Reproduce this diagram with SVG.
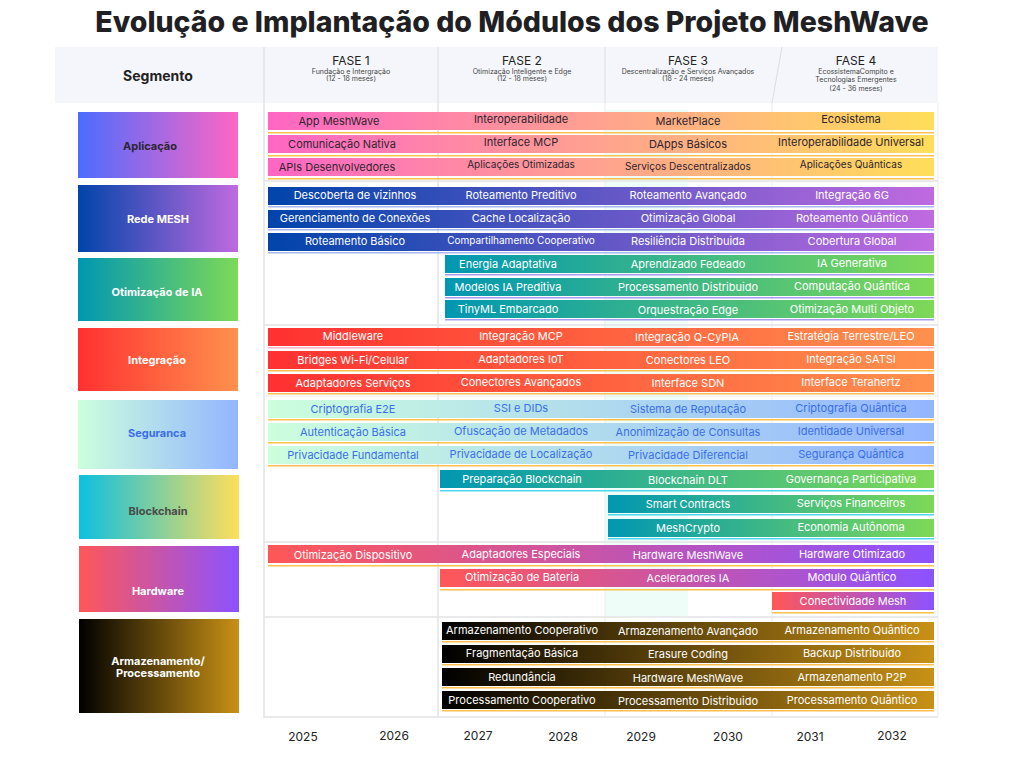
<svg xmlns="http://www.w3.org/2000/svg" width="1024" height="768" viewBox="0 0 1024 768">
<defs>
<linearGradient id="gApp"><stop offset="0" stop-color="#ff66c4"/><stop offset="1" stop-color="#ffde59"/></linearGradient>
<linearGradient id="gAppS"><stop offset="0" stop-color="#4b6cff"/><stop offset="1" stop-color="#ff66c4"/></linearGradient>
<linearGradient id="gMesh"><stop offset="0" stop-color="#0044aa"/><stop offset="1" stop-color="#c06ae0"/></linearGradient>
<linearGradient id="gIA"><stop offset="0" stop-color="#0097b2"/><stop offset="1" stop-color="#7ed957"/></linearGradient>
<linearGradient id="gInt"><stop offset="0" stop-color="#ff3131"/><stop offset="1" stop-color="#ff914d"/></linearGradient>
<linearGradient id="gSeg"><stop offset="0" stop-color="#ccffdd"/><stop offset="1" stop-color="#93b5ff"/></linearGradient>
<linearGradient id="gBcS"><stop offset="0" stop-color="#0cc0df"/><stop offset="1" stop-color="#ffde59"/></linearGradient>
<linearGradient id="gHw"><stop offset="0" stop-color="#ff5757"/><stop offset="1" stop-color="#8c52ff"/></linearGradient>
<linearGradient id="gArm"><stop offset="0" stop-color="#000000"/><stop offset="1" stop-color="#c89116"/></linearGradient>
<style>
text{font-family:"Inter","Liberation Sans",sans-serif;text-anchor:middle}
.title{font-size:28.5px;font-weight:800;fill:#1f1f24}
.seg{font-size:11px;font-weight:700}
.fase{font-size:12px;fill:#222}
.sub{font-size:7px;fill:#444}
.bt{font-size:11px}
.sm{font-size:10px}
.w{fill:#ffffff}
.dk{fill:#2d2430}
.bl{fill:#3a6ee8}
.yr{font-size:12px;fill:#222}
.grid{stroke:#e3e3e6;stroke-width:1.5;fill:none}
</style>
</defs>
<rect width="1024" height="768" fill="#ffffff"/>
<text class="title" x="512" y="32">Evolução e Implantação do Módulos dos Projeto MeshWave</text>

<g id="header">
<rect x="55" y="47" width="883" height="56" fill="#f5f6fb"/>
<text x="158" y="81" style="font-size:14px;font-weight:700;fill:#222">Segmento</text>
<text class="fase" x="351" y="65">FASE 1</text>
<text class="sub" x="351" y="74">Fundação e Intergração</text>
<text class="sub" x="351" y="81">(12 - 18 meses)</text>
<text class="fase" x="522" y="65">FASE 2</text>
<text class="sub" x="522" y="74">Otimização Inteligente e Edge</text>
<text class="sub" x="522" y="81">(12 - 18 meses)</text>
<text class="fase" x="688" y="65">FASE 3</text>
<text class="sub" x="688" y="74">Descentralização e Serviços Avançados</text>
<text class="sub" x="688" y="81">(18 - 24 meses)</text>
<text class="fase" x="856" y="65">FASE 4</text>
<text class="sub" x="856" y="74">EcossistemaCompito e</text>
<text class="sub" x="856" y="82">Tecnologias Emergentes</text>
<text class="sub" x="856" y="91">(24 - 36 meses)</text>
<line x1="438" y1="47" x2="438" y2="103" stroke="#dcdce2" stroke-width="1"/>
<line x1="605" y1="47" x2="605" y2="103" stroke="#dcdce2" stroke-width="1"/>
<line x1="782" y1="47" x2="772" y2="103" stroke="#dcdce2" stroke-width="1"/>
</g>

<g id="grid">
<rect x="605" y="110" width="83" height="507" fill="#eefdf8"/>
<line class="grid" x1="264" y1="47" x2="264" y2="718"/>
<line class="grid" x1="264" y1="717" x2="938" y2="717"/>
<line x1="438" y1="103" x2="438" y2="717" stroke="#e3e3e6" stroke-width="1.5"/>
<line x1="605" y1="103" x2="605" y2="717" stroke="#ececef" stroke-width="1"/>
<line x1="772" y1="103" x2="772" y2="717" stroke="#ececef" stroke-width="1"/>
<line x1="938" y1="103" x2="938" y2="717" stroke="#ececef" stroke-width="1"/>
<line x1="264" y1="181" x2="938" y2="181" stroke="#e3e3e6" stroke-width="1.5"/>
<line x1="264" y1="325" x2="938" y2="325" stroke="#e3e3e6" stroke-width="1.5"/>
<line x1="264" y1="396" x2="938" y2="396" stroke="#ececef" stroke-width="1"/>
<line x1="264" y1="542" x2="938" y2="542" stroke="#e3e3e6" stroke-width="1.5"/>
<line x1="264" y1="617" x2="938" y2="617" stroke="#e3e3e6" stroke-width="1.5"/>
</g>

<g id="seg-aplicacao">
<rect x="78" y="112" width="160" height="66" fill="url(#gAppS)"/>
<text class="seg dk" x="150" y="150">Aplicação</text>
<rect x="268" y="112" width="666" height="18" fill="url(#gApp)"/>
<rect x="268" y="132" width="666" height="1.5" fill="#ffc04d"/>
<rect x="268" y="135" width="666" height="18" fill="url(#gApp)"/>
<rect x="268" y="155" width="666" height="1.5" fill="#ffc04d"/>
<rect x="268" y="158" width="666" height="18" fill="url(#gApp)"/>
<rect x="268" y="178" width="666" height="1.5" fill="#ffc04d"/>
<text class="bt dk" x="339" y="125">App MeshWave</text>
<text class="bt dk" x="521" y="123">Interoperabilidade</text>
<text class="bt dk" x="688" y="125">MarketPlace</text>
<text class="bt dk" x="851" y="123">Ecosistema</text>
<text class="bt dk" x="342" y="148">Comunicação Nativa</text>
<text class="bt dk" x="521" y="146">Interface MCP</text>
<text class="bt dk" x="688" y="148">DApps Básicos</text>
<text class="bt dk" x="851" y="146">Interoperabilidade Universal</text>
<text class="bt dk" x="337" y="171">APIs Desenvolvedores</text>
<text class="sm dk" x="521" y="168">Aplicações Otimizadas</text>
<text class="sm dk" x="688" y="170">Serviços Descentralizados</text>
<text class="sm dk" x="851" y="168">Aplicações Quânticas</text>
</g>

<g id="seg-rede-mesh">
<rect x="78" y="185" width="160" height="67" fill="url(#gMesh)"/>
<text class="seg w" x="158" y="223">Rede MESH</text>
<rect x="268" y="187" width="666" height="18" fill="url(#gMesh)"/>
<rect x="268" y="206" width="666" height="1.5" fill="#a9b8f0"/>
<rect x="268" y="210" width="666" height="18" fill="url(#gMesh)"/>
<rect x="268" y="229" width="666" height="1.5" fill="#a9b8f0"/>
<rect x="268" y="233" width="666" height="18" fill="url(#gMesh)"/>
<rect x="268" y="252" width="666" height="1.5" fill="#a9b8f0"/>
<text class="bt w" x="355" y="199">Descoberta de vizinhos</text>
<text class="bt w" x="521" y="199">Roteamento Preditivo</text>
<text class="bt w" x="688" y="199">Roteamento Avançado</text>
<text class="bt w" x="852" y="199">Integração 6G</text>
<text class="bt w" x="355" y="222">Gerenciamento de Conexões</text>
<text class="bt w" x="521" y="222">Cache Localização</text>
<text class="bt w" x="688" y="222">Otimização Global</text>
<text class="bt w" x="852" y="222">Roteamento Quântico</text>
<text class="bt w" x="355" y="245">Roteamento Básico</text>
<text class="sm w" x="521" y="244">Compartilhamento Cooperativo</text>
<text class="bt w" x="688" y="245">Resiliência Distribuida</text>
<text class="bt w" x="852" y="245">Cobertura Global</text>
</g>

<g id="seg-otimizacao-ia">
<rect x="78" y="258" width="160" height="63" fill="url(#gIA)"/>
<text class="seg w" x="157" y="296">Otimização de IA</text>
<rect x="445" y="255" width="489" height="18" fill="url(#gIA)"/>
<rect x="445" y="274" width="489" height="1.5" fill="#a99cf0"/>
<rect x="445" y="278" width="489" height="18" fill="url(#gIA)"/>
<rect x="445" y="297" width="489" height="1.5" fill="#a99cf0"/>
<rect x="445" y="300" width="489" height="18" fill="url(#gIA)"/>
<rect x="445" y="319" width="489" height="1.5" fill="#a99cf0"/>
<text class="bt w" x="508" y="268">Energia Adaptativa</text>
<text class="bt w" x="688" y="268">Aprendizado Fedeado</text>
<text class="bt w" x="852" y="267">IA Generativa</text>
<text class="bt w" x="508" y="291">Modelos IA Preditiva</text>
<text class="bt w" x="688" y="291">Processamento Distribuido</text>
<text class="bt w" x="852" y="290">Computação Quântica</text>
<text class="bt w" x="508" y="313">TinyML Embarcado</text>
<text class="bt w" x="688" y="314">Orquestração Edge</text>
<text class="bt w" x="852" y="313">Otimização Multi Objeto</text>
</g>

<g id="seg-integracao">
<rect x="78" y="328" width="160" height="63" fill="url(#gInt)"/>
<text class="seg w" x="157" y="364">Integração</text>
<rect x="268" y="328" width="666" height="18" fill="url(#gInt)"/>
<rect x="268" y="347" width="666" height="1.5" fill="#ffb3c6"/>
<rect x="268" y="351" width="666" height="18" fill="url(#gInt)"/>
<rect x="268" y="370" width="666" height="1.5" fill="#ffc04d"/>
<rect x="268" y="374" width="666" height="18" fill="url(#gInt)"/>
<rect x="268" y="393" width="666" height="1.5" fill="#ffc04d"/>
<text class="bt w" x="353" y="340">Middleware</text>
<text class="bt w" x="521" y="340">Integração MCP</text>
<text class="bt w" x="687" y="341">Integração Q-CyPIA</text>
<text class="bt w" x="851" y="340">Estratégia Terrestre/LEO</text>
<text class="bt w" x="353" y="364">Bridges Wi-Fi/Celular</text>
<text class="bt w" x="521" y="363">Adaptadores IoT</text>
<text class="bt w" x="688" y="364">Conectores LEO</text>
<text class="bt w" x="851" y="363">Integração SATSI</text>
<text class="bt w" x="353" y="387">Adaptadores Serviços</text>
<text class="bt w" x="521" y="386">Conectores Avançados</text>
<text class="bt w" x="688" y="387">Interface SDN</text>
<text class="bt w" x="851" y="386">Interface Terahertz</text>
</g>

<g id="seg-seguranca">
<rect x="78" y="400" width="160" height="69" fill="url(#gSeg)"/>
<text class="seg bl" x="157" y="437">Seguranca</text>
<rect x="268" y="400" width="666" height="18" fill="url(#gSeg)"/>
<rect x="268" y="419" width="666" height="1.5" fill="#ffc04d"/>
<rect x="268" y="423" width="666" height="18" fill="url(#gSeg)"/>
<rect x="268" y="442" width="666" height="1.5" fill="#ffc04d"/>
<rect x="268" y="446" width="666" height="18" fill="url(#gSeg)"/>
<rect x="268" y="465" width="666" height="1.5" fill="#ffc04d"/>
<text class="bt bl" x="353" y="413">Criptografia E2E</text>
<text class="bt bl" x="521" y="412">SSI e DIDs</text>
<text class="bt bl" x="688" y="413">Sistema de Reputação</text>
<text class="bt bl" x="851" y="412">Criptografia Quântica</text>
<text class="bt bl" x="353" y="436">Autenticação Básica</text>
<text class="bt bl" x="521" y="435">Ofuscação de Metadados</text>
<text class="bt bl" x="688" y="436">Anonimização de Consultas</text>
<text class="bt bl" x="851" y="435">Identidade Universal</text>
<text class="bt bl" x="353" y="459">Privacidade Fundamental</text>
<text class="bt bl" x="521" y="458">Privacidade de Localização</text>
<text class="bt bl" x="688" y="459">Privacidade Diferencial</text>
<text class="bt bl" x="851" y="458">Segurança Quântica</text>
</g>

<g id="seg-blockchain">
<rect x="79" y="475" width="160" height="64" fill="url(#gBcS)"/>
<text class="seg" x="158" y="515" style="fill:#4a4a4a">Blockchain</text>
<rect x="440" y="470" width="494" height="18" fill="url(#gIA)"/>
<rect x="440" y="490" width="494" height="1.5" fill="#4dd8f0"/>
<rect x="608" y="495" width="326" height="18" fill="url(#gIA)"/>
<rect x="608" y="514" width="326" height="1.5" fill="#4dd8f0"/>
<rect x="608" y="519" width="326" height="18" fill="url(#gIA)"/>
<rect x="608" y="538" width="326" height="1.5" fill="#4dd8f0"/>
<text class="bt w" x="522" y="483">Preparação Blockchain</text>
<text class="bt w" x="688" y="484">Blockchain DLT</text>
<text class="bt w" x="851" y="483">Governança Participativa</text>
<text class="bt w" x="688" y="508">Smart Contracts</text>
<text class="bt w" x="851" y="507">Serviços Financeiros</text>
<text class="bt w" x="688" y="532">MeshCrypto</text>
<text class="bt w" x="851" y="531">Economia Autônoma</text>
</g>

<g id="seg-hardware">
<rect x="79" y="546" width="160" height="66" fill="url(#gHw)"/>
<text class="seg w" x="158" y="595">Hardware</text>
<rect x="268" y="545" width="666" height="18" fill="url(#gHw)"/>
<rect x="268" y="565" width="666" height="1.5" fill="#ffc04d"/>
<rect x="440" y="569" width="494" height="18" fill="url(#gHw)"/>
<rect x="440" y="589" width="494" height="1.5" fill="#ffc04d"/>
<rect x="772" y="592" width="162" height="18" fill="url(#gHw)"/>
<rect x="772" y="612" width="162" height="1.5" fill="#ffc04d"/>
<text class="bt w" x="353" y="559">Otimização Dispositivo</text>
<text class="bt w" x="521" y="558">Adaptadores Especiais</text>
<text class="bt w" x="688" y="559">Hardware MeshWave</text>
<text class="bt w" x="852" y="558">Hardware Otimizado</text>
<text class="bt w" x="522" y="581">Otimização de Bateria</text>
<text class="bt w" x="688" y="582">Aceleradores IA</text>
<text class="bt w" x="852" y="581">Modulo Quântico</text>
<text class="bt w" x="853" y="605">Conectividade Mesh</text>
</g>

<g id="seg-armazenamento">
<rect x="79" y="619" width="160" height="94" fill="url(#gArm)"/>
<text class="seg w" x="158" y="665">Armazenamento/</text>
<text class="seg w" x="158" y="677">Processamento</text>
<rect x="442" y="622" width="492" height="18" fill="url(#gArm)"/>
<rect x="442" y="641" width="492" height="1.5" fill="#ffc04d"/>
<rect x="442" y="645" width="492" height="18" fill="url(#gArm)"/>
<rect x="442" y="664" width="492" height="1.5" fill="#ffc04d"/>
<rect x="442" y="668" width="492" height="18" fill="url(#gArm)"/>
<rect x="442" y="687" width="492" height="1.5" fill="#ffc04d"/>
<rect x="442" y="691" width="492" height="18" fill="url(#gArm)"/>
<rect x="442" y="710" width="492" height="1.5" fill="#ffc04d"/>
<text class="bt w" x="522" y="634">Armazenamento Cooperativo</text>
<text class="bt w" x="688" y="635">Armazenamento Avançado</text>
<text class="bt w" x="852" y="634">Armazenamento Quântico</text>
<text class="bt w" x="522" y="657">Fragmentação Básica</text>
<text class="bt w" x="688" y="658">Erasure Coding</text>
<text class="bt w" x="852" y="657">Backup Distribuido</text>
<text class="bt w" x="522" y="681">Redundância</text>
<text class="bt w" x="688" y="682">Hardware MeshWave</text>
<text class="bt w" x="852" y="681">Armazenamento P2P</text>
<text class="bt w" x="522" y="704">Processamento Cooperativo</text>
<text class="bt w" x="688" y="705">Processamento Distribuido</text>
<text class="bt w" x="852" y="704">Processamento Quântico</text>
</g>

<g id="years">
<text class="yr" x="303" y="741">2025</text>
<text class="yr" x="394" y="740">2026</text>
<text class="yr" x="478" y="740">2027</text>
<text class="yr" x="563" y="741">2028</text>
<text class="yr" x="641" y="741">2029</text>
<text class="yr" x="728" y="741">2030</text>
<text class="yr" x="810" y="741">2031</text>
<text class="yr" x="892" y="740">2032</text>
</g>
</svg>
